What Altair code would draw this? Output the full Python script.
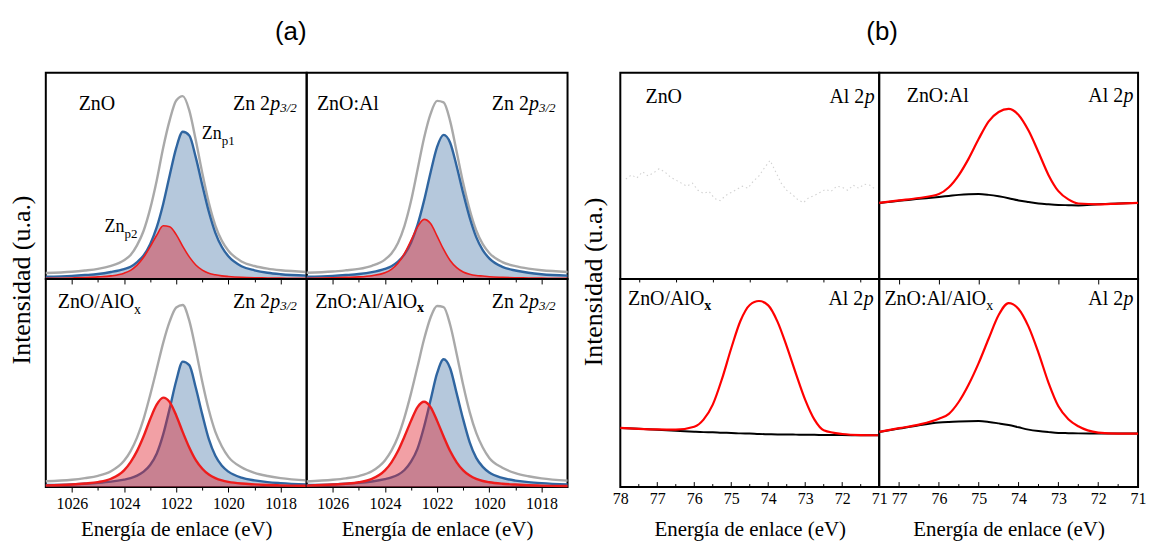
import altair as alt
import pandas as pd

SERIF = "Liberation Serif"
SANS = "Liberation Sans"

GRAY = "#a9a9a9"
BLUE = "#2f65a0"
BLUE_FILL = "#3d6fa3"
RED = "#ee1c1c"
RED_FILL = "#e1222e"
AL_RED = "#ff0000"

TITLE_X = "Energía de enlace (eV)"
TITLE_Y = "Intensidad (u.a.)"

# ---------------- (a) Zn 2p3/2 ----------------
E_ZN = [1027, 1026, 1025.5, 1025, 1024.5, 1024, 1023.75, 1023.5, 1023.25, 1023,
        1022.75, 1022.5, 1022.25, 1022, 1021.75, 1021.5, 1021.25, 1021, 1020.75,
        1020.5, 1020.25, 1020, 1019.5, 1019, 1018.5, 1018, 1017]

ZNO_ENV = [2.9, 3.5, 4.1, 4.9, 6.4, 9.1, 11.6, 16.4, 23.4, 34.0, 47.7, 63.7, 77.1, 86.6,
           88.7, 81.8, 67.3, 51.3, 36.9, 25.9, 18.5, 13.7, 8.5, 6.3, 5.0, 4.2, 3.4]
ZNO_P1 = [1.1, 1.5, 1.9, 2.4, 3.4, 4.8, 5.9, 8.2, 11.4, 16.9, 25.0, 36.4, 50.3, 63.6,
          71.4, 69.6, 59.0, 45.5, 32.6, 22.4, 15.5, 11.0, 6.2, 4.2, 3.0, 2.3, 1.6]
ZNO_P2 = [0.3, 0.5, 0.7, 1.0, 1.5, 2.8, 4.2, 6.7, 10.5, 15.6, 21.2, 25.8, 25.3, 21.5,
          15.8, 10.7, 6.8, 4.3, 2.8, 2.0, 1.5, 1.2, 0.8, 0.6, 0.5, 0.4, 0.3]

ZNOAL_ENV = [3.0, 3.6, 4.2, 4.9, 6.4, 9.4, 12.4, 17.5, 25.8, 37.8, 53.0, 68.4, 80.1, 86.4,
             85.7, 76.6, 61.7, 46.5, 33.5, 23.5, 16.9, 12.6, 8.2, 6.2, 5.0, 4.2, 3.4]
ZNOAL_P1 = [1.1, 1.5, 1.9, 2.4, 3.3, 4.9, 6.2, 8.4, 11.9, 17.6, 26.2, 38.0, 51.7, 64.1,
            69.9, 66.1, 54.7, 41.6, 29.7, 20.3, 14.0, 10.0, 5.9, 4.1, 3.0, 2.3, 1.6]
ZNOAL_P2 = [0.35, 0.55, 0.75, 1.0, 1.6, 3.0, 4.7, 7.6, 12.4, 18.7, 25.3, 28.9, 26.9, 20.8,
            14.3, 9.0, 5.5, 3.4, 2.3, 1.7, 1.4, 1.1, 0.8, 0.6, 0.5, 0.4, 0.3]

ZNOALOX_ENV = [2.8, 3.5, 4.3, 5.4, 7.6, 12.6, 17.3, 23.9, 32.8, 44.2, 56.6, 69.3, 79.6, 86.3,
               87.5, 80.0, 66.0, 50.5, 37.0, 26.5, 19.5, 14.5, 9.5, 6.8, 5.3, 4.3, 3.2]
ZNOALOX_P1 = [1.0, 1.3, 1.6, 2.0, 2.6, 3.6, 4.3, 5.5, 7.4, 10.6, 16.0, 25.3, 37.8, 51.1,
              60.3, 58.6, 47.7, 34.8, 23.0, 15.0, 10.2, 7.4, 4.5, 3.2, 2.4, 1.9, 1.2]
ZNOALOX_P2 = [0.8, 1.2, 1.7, 2.4, 4.0, 8.0, 12.0, 17.4, 24.4, 32.6, 39.6, 43.0, 40.8, 34.4,
              26.4, 19.0, 12.9, 8.8, 6.0, 4.3, 3.2, 2.5, 1.7, 1.3, 1.0, 0.8, 0.6]

ZNOALALOX_ENV = [2.7, 3.5, 4.2, 5.3, 7.6, 12.8, 17.5, 24.2, 33.5, 45.0, 57.9, 71.0, 81.5, 87.0,
                 86.5, 78.0, 64.0, 49.0, 36.0, 26.0, 19.0, 14.0, 9.3, 6.7, 5.2, 4.2, 3.1]
ZNOALALOX_P1 = [1.0, 1.3, 1.6, 2.0, 2.7, 3.8, 4.6, 5.9, 8.2, 12.2, 18.5, 29.0, 41.8, 54.7,
                61.4, 57.1, 45.0, 32.5, 21.5, 14.0, 9.7, 7.0, 4.4, 3.1, 2.4, 1.9, 1.2]
ZNOALALOX_P2 = [0.7, 1.2, 1.6, 2.3, 3.9, 8.0, 11.9, 17.3, 24.3, 31.8, 38.4, 41.0, 38.4, 31.8,
                24.3, 17.3, 11.9, 8.0, 5.5, 3.9, 2.9, 2.3, 1.6, 1.2, 0.9, 0.7, 0.5]

ZN_TICKS = [1026, 1025, 1024, 1023, 1022, 1021, 1020, 1019, 1018]

# ---------------- (b) Al 2p ----------------
E_AL_RAW = [77.85, 77.7, 77.55, 77.4, 77.25, 77.1, 76.95, 76.8, 76.65, 76.5, 76.35, 76.2,
            76.05, 75.9, 75.75, 75.6, 75.45, 75.3, 75.15, 75.0, 74.85, 74.7, 74.55, 74.4,
            74.25, 74.1, 73.95, 73.8, 73.65, 73.5, 73.35, 73.2, 73.05, 72.9, 72.75, 72.6,
            72.45, 72.3, 72.15, 72.0, 71.85, 71.7, 71.55, 71.4, 71.25, 71.1]
ZNO_AL_RAW = [48.5, 50.5, 49.0, 52.0, 50.0, 51.5, 53.5, 52.0, 49.5, 48.0, 46.5, 45.0,
              46.5, 43.0, 41.5, 42.5, 39.0, 38.0, 40.5, 42.0, 43.5, 45.0, 44.0, 47.5,
              50.0, 54.0, 57.5, 52.0, 46.5, 43.0, 41.0, 38.5, 37.0, 39.5, 40.5, 42.0,
              43.5, 42.5, 45.0, 44.5, 43.0, 45.5, 44.0, 46.0, 45.5, 43.5]

E_AL_L = [78, 77.5, 77, 76.5, 76, 75.75, 75.5, 75.25, 75, 74.75, 74.5, 74.25, 74, 73.75,
          73.5, 73.25, 73, 72.75, 72.5, 72, 71.5, 71]
E_AL_R = [77.5, 77.0, 76.5, 76.0, 75.75, 75.5, 75.25, 75.0, 74.75, 74.5, 74.25, 74.0,
          73.75, 73.5, 73.25, 73.0, 72.75, 72.5, 72.0, 71.5, 71.0]

ZNOAL_AL_FIT = [36.9, 38.1, 39.3, 41.2, 44.5, 50.4, 58.5, 68.0, 76.5, 81.0, 82.5, 79.6,
                72.0, 61.5, 50.5, 42.6, 38.6, 36.6, 36.2, 36.6, 36.9]
ZNOAL_AL_BG = [36.9, 38.0, 38.9, 39.8, 40.3, 40.8, 41.1, 41.2, 40.8, 40.1, 39.2, 38.1,
               37.3, 36.6, 36.2, 35.9, 35.8, 35.7, 36.2, 36.6, 36.9]

ZNOALOX_AL_FIT = [28.4, 28.0, 27.7, 27.6, 29.0, 32.4, 39.6, 52.0, 66.7, 79.9, 87.5, 89.4,
                  87.3, 79.5, 67.6, 54.4, 41.9, 32.4, 27.3, 25.5, 25.0, 24.9]
ZNOALOX_AL_BG = [28.4, 28.0, 27.5, 27.1, 26.6, 26.4, 26.3, 26.1, 26.0, 25.8, 25.7, 25.5,
                 25.4, 25.3, 25.3, 25.2, 25.1, 25.1, 25.0, 25.0, 24.9, 24.9]

ZNOALALOX_AL_FIT = [26.5, 28.3, 30.0, 32.8, 35.2, 41.0, 49.4, 59.7, 71.4, 82.7, 88.4, 85.6,
                    77.1, 64.5, 50.2, 38.8, 32.6, 29.2, 26.2, 25.7, 25.7]
ZNOALALOX_AL_BG = [26.5, 28.1, 29.7, 31.0, 31.3, 31.5, 31.65, 31.7, 31.3, 30.6, 29.8, 28.7,
                   27.6, 26.9, 26.4, 26.0, 25.9, 25.8, 25.7, 25.7, 25.7]

AL_TICKS_L = [77.5, 77, 76.5, 76, 75.5, 75, 74.5, 74, 73.5, 73, 72.5, 72, 71.5]
AL_TICKS_R = [77, 76.5, 76, 75.5, 75, 74.5, 74, 73.5, 73, 72.5, 72, 71.5]
AL_LABELS_L = [78, 77, 76, 75, 74, 73, 72, 71]
AL_LABELS_R = [77, 76, 75, 74, 73, 72, 71]
AL_MAJOR = [77, 76, 75, 74, 73, 72]
AL_MINOR_L = [77.5, 76.5, 75.5, 74.5, 73.5, 72.5, 71.5]
AL_MINOR_R = [76.5, 75.5, 74.5, 73.5, 72.5, 71.5]

# ---------------- layout ----------------
W_A, W_B = 262, 260
H_TOP, H_BOT = 207, 209
H_HEAD = 72
W_YA, W_YB = 46, 53

YS = alt.Scale(domain=[0, 100], nice=False, zero=False)
BOX = alt.ViewBackground(stroke="black", strokeWidth=2, strokeOpacity=1)
NOBOX = alt.ViewBackground(stroke="white", strokeWidth=0, strokeOpacity=0)


def txt(s, x, y, size=20, style="normal", weight="normal", align="left",
        font=SERIF, baseline="alphabetic", angle=0):
    return alt.Chart(pd.DataFrame({"t": [s]})).mark_text(
        font=font, fontSize=size, fontStyle=style, fontWeight=weight,
        align=align, baseline=baseline, angle=angle, color="black"
    ).encode(text="t:N", x=alt.value(x), y=alt.value(y))


def zn_2p(xr, yb):
    return [txt("3/2", xr, yb + 2, size=13, style="italic", align="right"),
            txt("p", xr - 16.6, yb, style="italic", align="right"),
            txt("Zn 2", xr - 26.8, yb, align="right")]


def al_2p(xr, yb):
    return [txt("p", xr, yb, style="italic", align="right"),
            txt("Al 2", xr - 10.5, yb, align="right")]


def with_sub(main, sub, xl, yb, dx, dy=6, size=20, sub_size=14, bold=False):
    return [txt(main, xl, yb, size=size),
            txt(sub, xl + dx, yb + dy, size=sub_size, weight="bold" if bold else "normal")]


def make_axis(values, labels, ticks, major_test, label_test, pad):
    kw = dict(values=values, format="d", domain=False, grid=False, labelFlush=False,
              labelOverlap=False, labels=labels, ticks=ticks)
    if ticks:
        kw.update(tickColor="black", tickWidth=1,
                  tickSize={"condition": {"test": major_test, "value": 5}, "value": 3})
    if labels:
        kw.update(labelExpr=f"{label_test} ? datum.label : ''", labelFont=SERIF,
                  labelFontSize=16, labelColor="black", labelPadding=pad,
                  title=TITLE_X, titleFont=SERIF, titleFontSize=21,
                  titleFontWeight="normal", titleColor="black",
                  titleBaseline="alphabetic", titleY=49)
    else:
        kw.update(title=None)
    return alt.Axis(**kw)


def zn_panel(env, p1, p2, h, bottom, texts, red_w):
    df = pd.DataFrame({"E": E_ZN, "env": env, "p1": p1, "p2": p2})
    ax = make_axis(ZN_TICKS, bottom, True, "datum.value % 2 === 0",
                   "datum.value % 2 === 0", 3.5)
    X = alt.X("E:Q", scale=alt.Scale(domain=[1027, 1017], nice=False, zero=False), axis=ax)
    base = alt.Chart(df)
    layers = [
        base.mark_line(color=GRAY, strokeWidth=2.4, interpolate="monotone").encode(
            x=X, y=alt.Y("env:Q", scale=YS, axis=None)),
        base.mark_area(color=BLUE_FILL, opacity=0.38, interpolate="monotone").encode(
            x=X, y=alt.Y("p1:Q", scale=YS, axis=None)),
        base.mark_line(color=BLUE, strokeWidth=2.4, interpolate="monotone").encode(
            x=X, y=alt.Y("p1:Q", scale=YS, axis=None)),
        base.mark_area(color=RED_FILL, opacity=0.43, interpolate="monotone").encode(
            x=X, y=alt.Y("p2:Q", scale=YS, axis=None)),
        base.mark_line(color=RED, strokeWidth=red_w, interpolate="monotone").encode(
            x=X, y=alt.Y("p2:Q", scale=YS, axis=None)),
    ]
    return alt.layer(*layers, *texts).properties(width=W_A, height=h, view=BOX)


def al_panel(E, fit, bg, dom, ticks, labels_vals, minor, h, bottom, texts, raw=None):
    if bottom:
        ax = make_axis(labels_vals, True, False, "true", "datum.value % 1 === 0", 4)
    else:
        ax = make_axis(ticks, False, True, "datum.value % 1 === 0", "true", 0)
    X = alt.X("E:Q", scale=alt.Scale(domain=dom, nice=False, zero=False), axis=ax)
    layers = []
    if raw is not None:
        rdf = pd.DataFrame({"E": E_AL_RAW, "v": raw})
        layers.append(alt.Chart(rdf).mark_line(color="#d2d2d2", strokeWidth=1.1,
                                               strokeDash=[1.5, 3]).encode(
            x=X, y=alt.Y("v:Q", scale=YS, axis=None)))
    if fit is not None:
        df = pd.DataFrame({"E": E, "fit": fit, "bg": bg})
        base = alt.Chart(df)
        layers.append(base.mark_line(color="black", strokeWidth=2, interpolate="monotone").encode(
            x=X, y=alt.Y("bg:Q", scale=YS, axis=None)))
        layers.append(base.mark_line(color=AL_RED, strokeWidth=2.2, interpolate="monotone").encode(
            x=X, y=alt.Y("fit:Q", scale=YS, axis=None)))
    if bottom:
        maj = pd.DataFrame({"E": AL_MAJOR})
        mnr = pd.DataFrame({"E": minor})
        layers.append(alt.Chart(maj).mark_rule(color="black", strokeWidth=1).encode(
            x=X, y=alt.value(h), y2=alt.value(h - 5)))
        layers.append(alt.Chart(mnr).mark_rule(color="black", strokeWidth=1).encode(
            x=X, y=alt.value(h), y2=alt.value(h - 3)))
    return alt.layer(*layers, *texts).properties(width=W_B, height=h, view=BOX)


def blank(w, h, items=()):
    base = alt.Chart(pd.DataFrame({"t": [""]})).mark_text(fontSize=1).encode(
        text="t:N", x=alt.value(w / 2), y=alt.value(h / 2))
    return alt.layer(base, *items).properties(width=w, height=h, view=NOBOX)


# ---- panels (a) ----
pa1 = zn_panel(ZNO_ENV, ZNO_P1, ZNO_P2, H_TOP, False,
               [txt("ZnO", 33, 37)] + zn_2p(252, 37)
               + with_sub("Zn", "p1", 156.7, 66.3, 20, dy=6.5, size=18, sub_size=13)
               + with_sub("Zn", "p2", 59, 159.7, 20, dy=6.5, size=18, sub_size=13),
               1.6)
pa2 = zn_panel(ZNOAL_ENV, ZNOAL_P1, ZNOAL_P2, H_TOP, False,
               [txt("ZnO:Al", 10.3, 37)] + zn_2p(250, 37), 1.6)
pa3 = zn_panel(ZNOALOX_ENV, ZNOALOX_P1, ZNOALOX_P2, H_BOT, True,
               with_sub("ZnO/AlO", "x", 12, 29, 76.7) + zn_2p(252, 29), 2.4)
pa4 = zn_panel(ZNOALALOX_ENV, ZNOALALOX_P1, ZNOALALOX_P2, H_BOT, True,
               with_sub("ZnO:Al/AlO", "x", 8.7, 29, 102.2, dy=4, bold=True) + zn_2p(250, 29), 2.4)

# ---- panels (b) ----
pb1 = al_panel(None, None, None, [78, 71], AL_TICKS_L, AL_LABELS_L, AL_MINOR_L, H_TOP, False,
               [txt("ZnO", 25.3, 30)] + al_2p(255.5, 30), raw=ZNO_AL_RAW)
pb2 = al_panel(E_AL_R, ZNOAL_AL_FIT, ZNOAL_AL_BG, [77.5, 71], AL_TICKS_R, AL_LABELS_R,
               AL_MINOR_R, H_TOP, False,
               [txt("ZnO:Al", 27.7, 29)] + al_2p(255.5, 29))
pb3 = al_panel(E_AL_L, ZNOALOX_AL_FIT, ZNOALOX_AL_BG, [78, 71], AL_TICKS_L, AL_LABELS_L,
               AL_MINOR_L, H_BOT, True,
               with_sub("ZnO/AlO", "x", 7.7, 26, 76.7, dy=5, bold=True) + al_2p(254.5, 26))
pb4 = al_panel(E_AL_R, ZNOALALOX_AL_FIT, ZNOALALOX_AL_BG, [77.5, 71], AL_TICKS_R, AL_LABELS_R,
               AL_MINOR_R, H_BOT, True,
               with_sub("ZnO:Al/AlO", "x", 5.3, 26, 102.2, dy=5) + al_2p(255.5, 26))

cells = [
    blank(W_YA, H_HEAD), blank(W_A, H_HEAD, [txt("(a)", 246, 31, size=26, font=SANS, align="center", baseline="middle")]),
    blank(W_A, H_HEAD), blank(W_YB, H_HEAD),
    blank(W_B, H_HEAD, [txt("(b)", 263, 31, size=26, font=SANS, align="center", baseline="middle")]),
    blank(W_B, H_HEAD),

    blank(W_YA, H_TOP, [txt(TITLE_Y, 22, 208, size=26, align="center", baseline="middle", angle=270)]),
    pa1, pa2,
    blank(W_YB, H_TOP, [txt(TITLE_Y, 27, 210, size=26, align="center", baseline="middle", angle=270)]),
    pb1, pb2,

    blank(W_YA, H_BOT), pa3, pa4, blank(W_YB, H_BOT), pb3, pb4,
]

chart = alt.concat(*cells, columns=6, spacing=0, bounds="flush", align="each").properties(
    padding={"left": 0, "top": 0, "right": 4, "bottom": 0}
).configure_view(strokeWidth=0).configure(font=SERIF)

chart.save("out.html", embed_options={"renderer": "svg", "actions": False})
